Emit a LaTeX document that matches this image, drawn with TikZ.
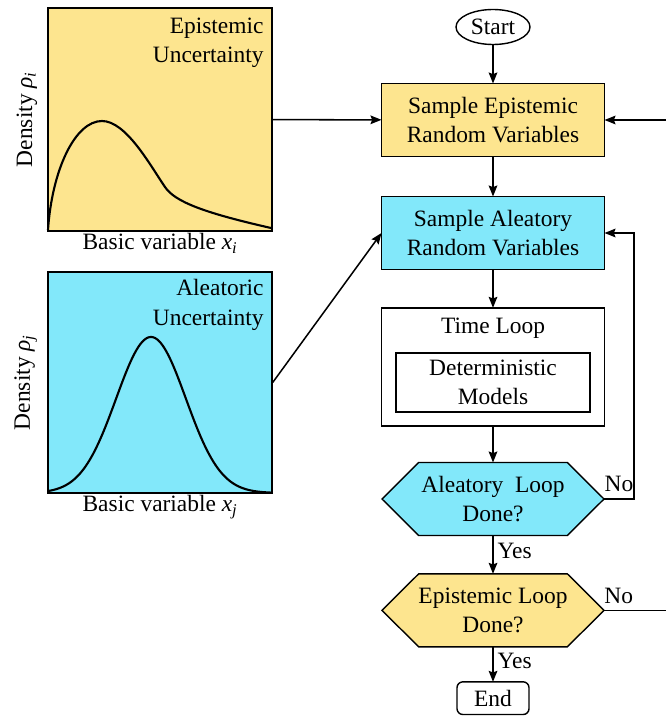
\documentclass[tikz,border=0pt]{standalone}
\usepackage{fontspec}
\setmainfont{Liberation Serif}
\usetikzlibrary{shapes,arrows,arrows.meta,positioning,fit,backgrounds}
\definecolor{epiyellow}{RGB}{253,229,143}
\definecolor{aleacyan}{RGB}{130,232,250}

\begin{document}
\begin{tikzpicture}[
    node distance=1.15cm,
    font=\fontsize{20}{25}\selectfont,
    stage/.style={rectangle, draw, line width=1.2pt, outer sep=0pt, minimum width=6.69cm, minimum height=2.19cm, align=center},
    decision/.style={rectangle, outer sep=0pt, minimum width=6.66cm, minimum height=2.19cm, align=center},
    terminal/.style={draw, line width=1.2pt, outer sep=0pt, align=center, inner sep=0pt},
    pdfbox/.style={rectangle, draw, line width=1.2pt, minimum width=6.72cm},
    arrow/.style={-{Stealth[length=3.3mm, width=2.6mm, inset=0.5mm]}, line width=1.3pt},
    curve/.style={line width=1.8pt}
]
\useasboundingbox (0,0) rectangle (19.95,-21.54);

% Density plots
\node[pdfbox, fill=epiyellow, minimum height=6.69cm] (epiplot) at (4.8,-3.585) {};
\node[pdfbox, fill=aleacyan, minimum height=6.63cm] (aleaplot) at (4.8,-11.475) {};

\begin{scope}[x=0.03cm, y=-0.03cm]
\draw[curve] (48,230) .. controls (52,170) and (75,121) .. (102,121)
  .. controls (126,121) and (150,165) .. (165,187)
  .. controls (175,202) and (205,213) .. (271,228);
\draw[curve] plot[domain=48:272, samples=120, smooth] (\x, {493-156*exp(-0.5*((\x-151)/34.8)*((\x-151)/34.8))});
\end{scope}

% Plot labels
\node[anchor=north east, align=right, inner sep=0pt] (epititle) at ([xshift=-0.27cm, yshift=-0.3cm]epiplot.north east) {Epistemic\\Uncertainty};
\node[anchor=north east, align=right, inner sep=0pt] (aleatitle) at ([xshift=-0.27cm, yshift=-0.24cm]aleaplot.north east) {Aleatoric\\Uncertainty};
\node[below=0.05cm of epiplot, inner sep=0pt] (epixlabel) {Basic variable \textit{x}\textsubscript{\textit{i}}};
\node[below=0.05cm of aleaplot, inner sep=0pt] (aleaxlabel) {Basic variable \textit{x}\textsubscript{\textit{j}}};
\node[rotate=90, anchor=south, inner sep=0pt] (epiylabel) at ([xshift=-0.3cm]epiplot.west) {Density \textit{ρ}\textsubscript{\textit{i}}};
\node[rotate=90, anchor=south, inner sep=0pt] (aleaylabel) at ([xshift=-0.3cm]aleaplot.west) {Density \textit{ρ}\textsubscript{\textit{j}}};

% Flowchart
\node[terminal, ellipse, minimum width=2.22cm, minimum height=1.05cm] (start) at (14.79,-0.81) {Start};
\node[stage, fill=epiyellow, below=1.17cm of start] (sampleepi) {Sample Epistemic\\Random Variables};
\node[stage, fill=aleacyan, below=1.2cm of sampleepi] (samplealea) {Sample Aleatory\\Random Variables};
\node[stage, minimum height=3.54cm, below=of samplealea] (timeloop) {};
\node[anchor=north, inner sep=0pt] (timetitle) at ([yshift=-0.3cm]timeloop.north) {Time Loop};
\node[stage, minimum width=5.82cm, minimum height=1.77cm] (detmodels) at ([yshift=-0.465cm]timeloop.center) {Deterministic\\Models};
\node[decision, below=1.1cm of timeloop] (aleadone) {Aleatory\ \ Loop\\Done?};
\node[decision, below=of aleadone] (epidone) {Epistemic Loop\\Done?};
\node[terminal, rounded corners=5pt, minimum width=2.16cm, minimum height=0.98cm, below=1.05cm of epidone] (finish) {End};

% Hexagon outlines of the decisions
\begin{scope}[on background layer]
\foreach \n/\c in {aleadone/aleacyan, epidone/epiyellow}
  \filldraw[fill=\c, line width=1.2pt] (\n.west) -- ([xshift=1.1cm]\n.north west) -- ([xshift=-1.1cm]\n.north east)
    -- (\n.east) -- ([xshift=-1.1cm]\n.south east) -- ([xshift=1.1cm]\n.south west) -- cycle;
\end{scope}

% Flow arrows
\draw[arrow] (start) -- (sampleepi);
\draw[arrow] (sampleepi) -- (samplealea);
\draw[arrow] (samplealea) -- (timeloop);
\draw[arrow] (timeloop) -- (aleadone);
\draw[arrow] (aleadone) -- node[right, pos=0.4]{Yes} (epidone);
\draw[arrow] (epidone) -- node[right, pos=0.4]{Yes} (finish);

% Loop arrows
\draw[arrow] (aleadone.east) -- node[above, yshift=2pt]{No} ++(0.9,0) |- (samplealea.east);
\draw[arrow] (epidone.east) -- node[above, yshift=2pt, pos=0.2]{No} ++(2.2,0) |- (sampleepi.east);

% Inputs
\draw[arrow] (epiplot) -- (sampleepi);
\draw[arrow] (aleaplot.east) -- (samplealea.west);

\end{tikzpicture}
\end{document}
